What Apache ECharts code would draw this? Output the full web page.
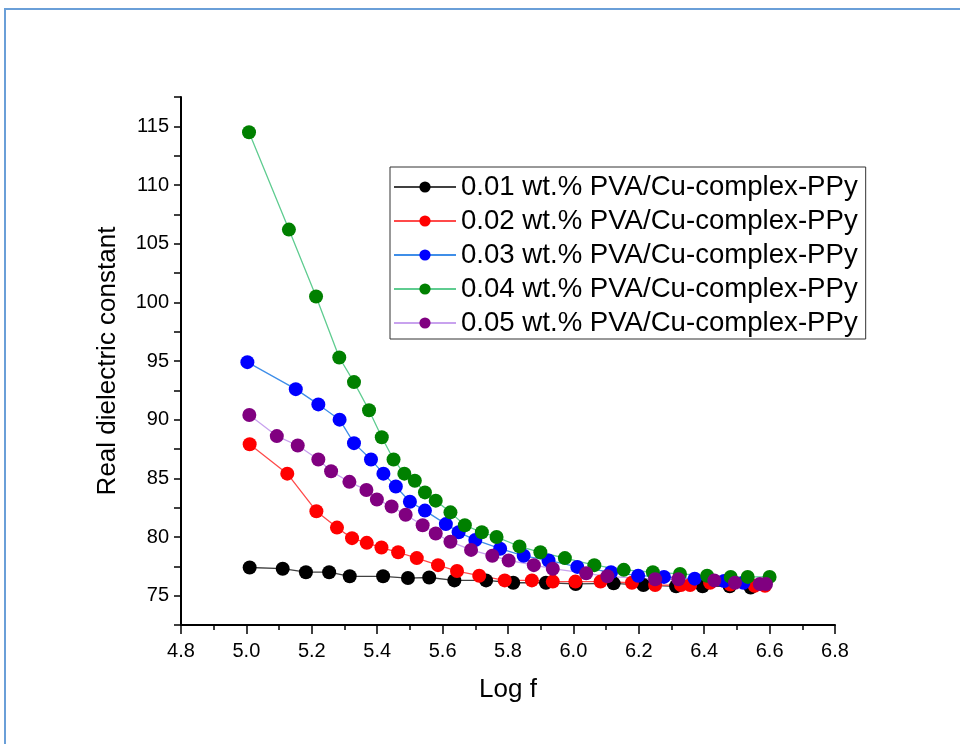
<!DOCTYPE html>
<html>
<head>
<meta charset="utf-8">
<script src="https://cdn.jsdelivr.net/npm/echarts@6/dist/echarts.min.js"></script>
<style>
  html, body { margin: 0; padding: 0; background: #fff; }
  #chart { width: 960px; height: 744px; }
</style>
</head>
<body>
<div id="chart"></div>
<script>
var names = [
  "0.01 wt.% PVA/Cu-complex-PPy",
  "0.02 wt.% PVA/Cu-complex-PPy",
  "0.03 wt.% PVA/Cu-complex-PPy",
  "0.04 wt.% PVA/Cu-complex-PPy",
  "0.05 wt.% PVA/Cu-complex-PPy"
];

var x1 = [5.010, 5.111, 5.182, 5.253, 5.316, 5.418, 5.494, 5.559, 5.636, 5.733, 5.816, 5.916, 6.007, 6.123, 6.214, 6.314, 6.395, 6.478, 6.542];
var y1 = [77.4, 77.3, 77.0, 77.0, 76.65, 76.65, 76.5, 76.55, 76.3, 76.3, 76.1, 76.1, 76.0, 76.05, 75.9, 75.8, 75.8, 75.8, 75.7];

var x2 = [5.010, 5.125, 5.214, 5.277, 5.323, 5.368, 5.413, 5.464, 5.521, 5.586, 5.644, 5.712, 5.790, 5.873, 5.937, 6.006, 6.083, 6.179, 6.250, 6.329, 6.357, 6.418, 6.480, 6.554, 6.586];
var y2 = [87.9, 85.4, 82.2, 80.8, 79.9, 79.5, 79.1, 78.7, 78.2, 77.6, 77.1, 76.7, 76.3, 76.3, 76.2, 76.2, 76.2, 76.1, 75.9, 75.9, 75.9, 76.1, 75.95, 75.85, 75.85];

var x3 = [5.003, 5.151, 5.220, 5.285, 5.329, 5.381, 5.419, 5.457, 5.500, 5.546, 5.610, 5.649, 5.700, 5.776, 5.848, 5.924, 6.012, 6.115, 6.198, 6.277, 6.371, 6.461, 6.520];
var y3 = [94.9, 92.6, 91.3, 90.0, 88.0, 86.6, 85.4, 84.3, 83.0, 82.25, 81.1, 80.4, 79.75, 79.0, 78.4, 78.0, 77.45, 77.0, 76.7, 76.6, 76.45, 76.25, 76.1];

var x4 = [5.008, 5.130, 5.213, 5.284, 5.329, 5.375, 5.414, 5.450, 5.483, 5.515, 5.546, 5.579, 5.624, 5.668, 5.720, 5.765, 5.835, 5.899, 5.974, 6.064, 6.154, 6.243, 6.326, 6.409, 6.481, 6.533, 6.600];
var y4 = [114.5, 106.2, 100.5, 95.3, 93.2, 90.8, 88.5, 86.6, 85.4, 84.8, 83.8, 83.1, 82.1, 81.0, 80.4, 80.0, 79.2, 78.7, 78.2, 77.6, 77.2, 77.0, 76.85, 76.7, 76.6, 76.6, 76.6];

var x5 = [5.009, 5.093, 5.157, 5.220, 5.259, 5.315, 5.367, 5.399, 5.444, 5.487, 5.539, 5.579, 5.624, 5.687, 5.752, 5.802, 5.879, 5.937, 6.039, 6.104, 6.250, 6.321, 6.431, 6.494, 6.570, 6.589];
var y5 = [90.4, 88.6, 87.8, 86.6, 85.6, 84.7, 84.0, 83.2, 82.6, 81.9, 81.0, 80.3, 79.6, 78.9, 78.4, 78.0, 77.6, 77.3, 76.9, 76.65, 76.4, 76.4, 76.3, 76.1, 76.0, 76.0];

var xs = [x1, x2, x3, x4, x5];
var ys = [y1, y2, y3, y4, y5];
var markerColors = ["#000000", "#ff0000", "#0000ff", "#008000", "#800080"];
var lineColors = ["#404040", "#ff4a4a", "#3f8ee8", "#5fcc90", "#c8a2ee"];

var chart = echarts.init(document.getElementById("chart"));

var seriesData = names.map(function (name, i) {
  return {
    name: name,
    type: "line",
    data: xs[i].map(function (x, j) { return [x, ys[i][j]]; }),
    symbol: "circle",
    symbolSize: 14,
    itemStyle: { color: markerColors[i] },
    lineStyle: { color: lineColors[i], width: 1.3 },
    emphasis: { disabled: true },
    animation: false
  };
});

var option = {
  backgroundColor: "#fff",
  animation: false,
  graphic: [
    {
      type: "rect",
      shape: { x: 5, y: 9, width: 1000, height: 800 },
      style: { fill: null, stroke: "#6a9fd8", lineWidth: 2 },
      silent: true
    }
  ],
  legend: {
    orient: "vertical",
    left: 390,
    top: 167,
    itemWidth: 62,
    itemHeight: 14,
    itemGap: 6,
    padding: [6, 8, 2, 3],
    borderColor: "#333",
    borderWidth: 1,
    textStyle: { fontFamily: "Liberation Sans, Arial", fontSize: 27.6, color: "#000" },
    data: names
  },
  grid: {
    left: 181,
    right: 125,
    top: 97,
    bottom: 119
  },
  xAxis: {
    type: "value",
    min: 4.8,
    max: 6.8,
    interval: 0.2,
    name: "Log f",
    nameLocation: "middle",
    nameGap: 52,
    nameTextStyle: { fontFamily: "Liberation Sans, Arial", fontSize: 26, color: "#000" },
    axisLine: { onZero: false, lineStyle: { color: "#000", width: 2 } },
    axisTick: { inside: false, length: 9, lineStyle: { color: "#000", width: 1.5 } },
    minorTick: { show: true, splitNumber: 2, length: 5, lineStyle: { color: "#000", width: 1.5 } },
    splitLine: { show: false },
    axisLabel: {
      margin: 16,
      fontFamily: "Liberation Sans, Arial",
      fontSize: 20,
      color: "#000",
      formatter: function (v) { return v.toFixed(1); }
    }
  },
  yAxis: {
    type: "value",
    min: 72.5,
    max: 117.5,
    interval: 2.5,
    name: "Real dielectric constant",
    nameLocation: "middle",
    nameGap: 60,
    nameTextStyle: { fontFamily: "Liberation Sans, Arial", fontSize: 26, color: "#000" },
    axisLine: { onZero: false, lineStyle: { color: "#000", width: 2 } },
    axisTick: { inside: false, length: 7, lineStyle: { color: "#000", width: 1.5 } },
    splitLine: { show: false },
    axisLabel: {
      margin: 12,
      fontFamily: "Liberation Sans, Arial",
      fontSize: 20,
      color: "#000",
      formatter: function (v) { return Math.abs(v % 5) < 1e-6 ? String(v) : ""; }
    }
  },
  series: seriesData
};

chart.setOption(option);
</script>
</body>
</html>
